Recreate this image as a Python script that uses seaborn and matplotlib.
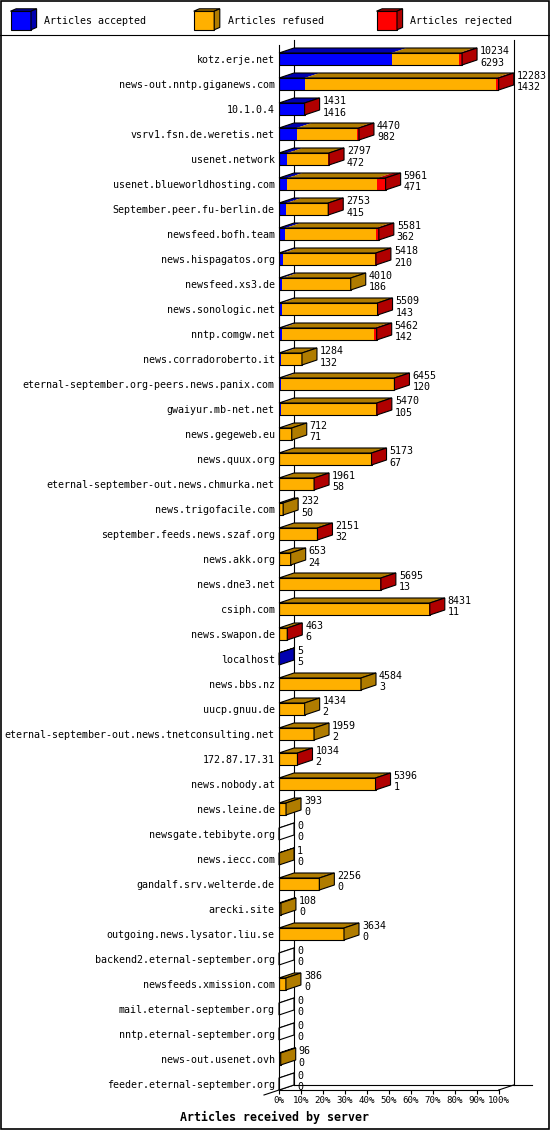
import numpy as np
import pandas as pd
import matplotlib
matplotlib.use("Agg")
import matplotlib.pyplot as plt
import seaborn as sns
from matplotlib.patches import Polygon, Rectangle
from matplotlib.lines import Line2D
from matplotlib import transforms as mtrans

servers = [
    "kotz.erje.net", "news-out.nntp.giganews.com", "10.1.0.4",
    "vsrv1.fsn.de.weretis.net", "usenet.network", "usenet.blueworldhosting.com",
    "September.peer.fu-berlin.de", "newsfeed.bofh.team", "news.hispagatos.org",
    "newsfeed.xs3.de", "news.sonologic.net", "nntp.comgw.net",
    "news.corradoroberto.it", "eternal-september.org-peers.news.panix.com",
    "gwaiyur.mb-net.net", "news.gegeweb.eu", "news.quux.org",
    "eternal-september-out.news.chmurka.net", "news.trigofacile.com",
    "september.feeds.news.szaf.org", "news.akk.org", "news.dne3.net",
    "csiph.com", "news.swapon.de", "localhost", "news.bbs.nz", "uucp.gnuu.de",
    "eternal-september-out.news.tnetconsulting.net", "172.87.17.31",
    "news.nobody.at", "news.leine.de", "newsgate.tebibyte.org", "news.iecc.com",
    "gandalf.srv.welterde.de", "arecki.site", "outgoing.news.lysator.liu.se",
    "backend2.eternal-september.org", "newsfeeds.xmission.com",
    "mail.eternal-september.org", "nntp.eternal-september.org",
    "news-out.usenet.ovh", "feeder.eternal-september.org",
]
offered = [10234, 12283, 1431, 4470, 2797, 5961, 2753, 5581, 5418, 4010, 5509,
           5462, 1284, 6455, 5470, 712, 5173, 1961, 232, 2151, 653, 5695, 8431,
           463, 5, 4584, 1434, 1959, 1034, 5396, 393, 0, 1, 2256, 108, 3634, 0,
           386, 0, 0, 96, 0]
accepted = [6293, 1432, 1416, 982, 472, 471, 415, 362, 210, 186, 143, 142, 132,
            120, 105, 71, 67, 58, 50, 32, 24, 13, 11, 6, 5, 3, 2, 2, 2, 1, 0, 0,
            0, 0, 0, 0, 0, 0, 0, 0, 0, 0]
refused = [3790, 10680, 0, 3360, 2270, 5030, 2300, 5060, 5178, 3824, 5326, 5170,
           1152, 6295, 5315, 641, 5066, 1883, 182, 2104, 629, 5642, 8370, 437, 0,
           4581, 1432, 1957, 1012, 5365, 393, 0, 1, 2256, 108, 3634, 0, 386, 0,
           0, 96, 0]
rejected = [151, 171, 15, 128, 55, 460, 38, 159, 30, 0, 40, 150, 0, 40, 50, 0,
            40, 20, 0, 15, 0, 40, 50, 20, 0, 0, 0, 0, 20, 30, 0, 0, 0, 0, 0, 0,
            0, 0, 0, 0, 0, 0]
tick_labels = ["0%", "10%", "20%", "30%", "40%", "50%", "60%", "70%", "80%",
               "90%", "100%"]
legend_labels = ["Articles accepted", "Articles refused", "Articles rejected"]

BLUE, BLUE_D = "#0000FF", "#0000B0"
ORANGE, ORANGE_D = "#FFB000", "#B07C00"
RED, RED_D = "#FF0000", "#B00000"

W, H = 550, 1130
MONO = "DejaVu Sans Mono"
plt.rcParams["font.family"] = [MONO]
fig = plt.figure(figsize=(W / 100, H / 100), dpi=100)


def prect(x0, y0, x1, y1):
    return [x0 / W, 1 - y1 / H, (x1 - x0) / W, (y1 - y0) / H]


ax = fig.add_axes(prect(279, 45, 498.7, 1090))
df = pd.DataFrame({
    "server": servers,
    "offered": offered,
    "acc_ref": np.add(accepted, refused),
    "accepted": accepted,
})
BW = 0.48
common = dict(data=df, y="server", order=servers, orient="h", width=BW,
              errorbar=None, saturation=1, ax=ax)
sns.barplot(x="offered", color=RED, linewidth=0, **common)
sns.barplot(x="acc_ref", color=ORANGE, linewidth=0, **common)
sns.barplot(x="accepted", color=BLUE, linewidth=0, **common)
sns.barplot(x="offered", color="black", fill=False, linewidth=0.8, **common)

xmax = max(offered)
n = len(servers)
ax.set_xlim(0, xmax)
ax.set_ylim(n - 1 + 0.24, -0.56)
ax.set_xlabel("")
ax.set_ylabel("")

p = ax.transData.transform([(0, 0), (1, 1)])
sx = p[1, 0] - p[0, 0]
sy = p[1, 1] - p[0, 1]
DX = 15 / sx
DY = 5 / sy

# 3D faces
for i in range(n):
    yt, yb = i - BW / 2, i + BW / 2
    segs = [(0, accepted[i], BLUE_D),
            (accepted[i], accepted[i] + refused[i], ORANGE_D),
            (accepted[i] + refused[i], offered[i], RED_D)]
    for x0, x1, c in segs:
        if x1 > x0:
            ax.add_patch(Polygon([(x0, yt), (x1, yt), (x1 + DX, yt + DY),
                                  (x0 + DX, yt + DY)], closed=True, fc=c,
                                 ec="none", clip_on=False, zorder=2))
    T = offered[i]
    ax.add_patch(Polygon([(0, yt), (T, yt), (T + DX, yt + DY), (DX, yt + DY)],
                         closed=True, fill=False, ec="black", lw=0.8,
                         clip_on=False, zorder=2.1))
    if rejected[i] > 0:
        sc = RED_D
    elif refused[i] > 0:
        sc = ORANGE_D
    elif accepted[i] > 0:
        sc = BLUE_D
    else:
        sc = "white"
    ax.add_patch(Polygon([(T, yt), (T, yb), (T + DX, yb + DY), (T + DX, yt + DY)],
                         closed=True, fc=sc, ec="black", lw=0.8,
                         clip_on=False, zorder=2.2))
    tr_top = mtrans.offset_copy(ax.transData, fig=fig, x=18, y=8, units="dots")
    tr_bot = mtrans.offset_copy(ax.transData, fig=fig, x=18, y=-3.5, units="dots")
    ax.text(T, i, str(offered[i]), transform=tr_top, ha="left", va="center",
            fontsize=7.2, family=MONO, clip_on=False, zorder=3)
    ax.text(T, i, str(accepted[i]), transform=tr_bot, ha="left", va="center",
            fontsize=7.2, family=MONO, clip_on=False, zorder=3)

# back wall and floor lines
ytop, ybot = -0.56, n - 1 + 0.24
lkw = dict(color="black", lw=0.8, clip_on=False, zorder=0.5)
ax.plot([DX, DX], [ytop + DY, ybot + DY], **lkw)
ax.plot([xmax + DX, xmax + DX], [ytop + DY, ybot + DY], **lkw)
ax.plot([DX, xmax + DX + 18 / sx], [ybot + DY, ybot + DY], **lkw)
ax.plot([-DX, DX], [ybot - DY, ybot + DY], **lkw)
ax.plot([xmax, xmax + DX], [ybot, ybot + DY], **lkw)

for s in ["top", "right"]:
    ax.spines[s].set_visible(False)
for s in ["left", "bottom"]:
    ax.spines[s].set_linewidth(0.8)
    ax.spines[s].set_color("black")
ax.set_xticks([xmax * k / 10 for k in range(11)], labels=tick_labels)
ax.set_yticks(range(n), labels=servers)
ax.tick_params(axis="x", length=3, width=0.8, pad=1.5, labelsize=6.6)
ax.tick_params(axis="y", length=0, pad=3, labelsize=7.2)
ax.set_facecolor("none")

fig.text(274 / W, 1 - 1117 / H, "Articles received by server", ha="center",
         va="center", fontsize=8.4, fontweight="bold", family=MONO)

# legend strip
lax = fig.add_axes([0, 1 - 34 / H, 1, 34 / H])
lax.set_xlim(0, W)
lax.set_ylim(34, 0)
lax.axis("off")
for x0, c, cd, lab in [(10.5, BLUE, BLUE_D, legend_labels[0]),
                       (193.7, ORANGE, ORANGE_D, legend_labels[1]),
                       (376.5, RED, RED_D, legend_labels[2])]:
    w, h, dx, dy, y0 = 20.5, 18.6, 5.6, 2.4, 11.2
    lax.add_patch(Rectangle((x0, y0), w, h, fc=c, ec="black", lw=0.8))
    lax.add_patch(Polygon([(x0, y0), (x0 + w, y0), (x0 + w + dx, y0 - dy),
                           (x0 + dx, y0 - dy)], closed=True, fc=cd, ec="black",
                          lw=0.8))
    lax.add_patch(Polygon([(x0 + w, y0), (x0 + w, y0 + h), (x0 + w + dx, y0 + h - dy),
                           (x0 + w + dx, y0 - dy)], closed=True, fc=cd, ec="black",
                          lw=0.8))
    lax.text(x0 + 34, 20.5, lab, ha="left", va="center", fontsize=7.2, family=MONO)

fig.add_artist(Line2D([0, 1], [1 - 34.5 / H] * 2, transform=fig.transFigure,
                      color="black", lw=0.8))
fig.add_artist(Rectangle((0.001, 0.0005), 0.998, 0.999, transform=fig.transFigure,
                         fill=False, ec="black", lw=1.2))

fig.savefig("out.png", dpi=100)
